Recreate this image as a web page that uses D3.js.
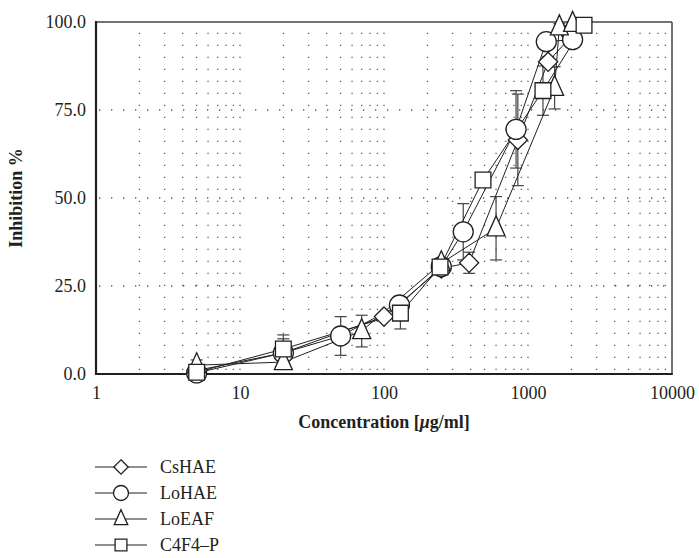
<!DOCTYPE html>
<html>
<head>
<meta charset="utf-8">
<script src="https://cdn.jsdelivr.net/npm/d3@7"></script>
<style>
  body { margin: 0; background: #fff; }
  svg, svg text { font-family: "Liberation Serif", "DejaVu Serif", serif; }
  .tick text { fill: #231f20; font-size: 18px; font-family: "Liberation Serif", serif; }
  .grid { stroke: #5a5a5a; stroke-width: 1.3; stroke-dasharray: 1.3, 10.7; }
  .series { fill: none; stroke: #231f20; stroke-width: 1; }
  .err { stroke: #444; stroke-width: 1.2; }
  .mark { fill: #fff; stroke: #231f20; stroke-width: 1.3; }
</style>
</head>
<body>
<svg id="chart" width="699" height="558"></svg>
<script>
const svg = d3.select("#chart");

// data
const seriesNames = ["CsHAE", "LoHAE", "LoEAF", "C4F4\u2013P"];
const symbolKinds = ["diamond", "circle", "triangle", "square"];

const csConc = [5, 20, 100, 250, 390, 850, 1380, 2000];
const csVal = [1.0, 6.0, 16.3, 30.0, 31.6, 66.5, 88.7, 96.0];
const csErr = [0.5, 1.0, 1.0, 1.5, 3.0, 13.0, 1.5, 1.0];

const loConc = [5, 20, 50, 128, 250, 355, 826, 1340, 2040];
const loVal = [0.3, 6.0, 10.8, 19.6, 30.5, 40.4, 69.5, 94.4, 95.0];
const loErr = [0.5, 4.0, 5.5, 1.0, 1.0, 8.0, 11.0, 1.0, 1.0];

const eaConc = [5, 20, 70, 250, 600, 1530, 1650, 2040];
const eaVal = [2.5, 3.4, 12.2, 31.5, 41.4, 81.3, 98.5, 99.5];
const eaErr = [1.5, 1.0, 4.5, 1.0, 9.0, 6.0, 1.0, 0.5];

const c4Conc = [5, 20, 130, 245, 487, 1270, 2450];
const c4Val = [0.5, 7.1, 17.3, 30.4, 55.1, 80.5, 99.1];
const c4Err = [0.5, 4.0, 4.5, 1.0, 1.0, 7.0, 0.5];

const xTicks = [1, 10, 100, 1000, 10000];
const yTicks = [0, 25, 50, 75, 100];
const yGrid = [25, 50, 75];

const series = [
  { name: seriesNames[0], kind: symbolKinds[0], conc: csConc, val: csVal, err: csErr },
  { name: seriesNames[1], kind: symbolKinds[1], conc: loConc, val: loVal, err: loErr },
  { name: seriesNames[2], kind: symbolKinds[2], conc: eaConc, val: eaVal, err: eaErr },
  { name: seriesNames[3], kind: symbolKinds[3], conc: c4Conc, val: c4Val, err: c4Err }
];

const plotLeft = 96, plotRight = 672, plotTop = 22, plotBottom = 374;
const x = d3.scaleLog().domain([1, 10000]).range([plotLeft, plotRight]);
const y = d3.scaleLinear().domain([0, 100]).range([plotBottom, plotTop]);

// minor log grid (every 1..9 of each decade)
const xGrid = [];
for (let d = 0; d < 4; d++) {
  for (let k = 1; k <= 9; k++) {
    const v = k * Math.pow(10, d);
    if (v > 1) xGrid.push(v);
  }
}

svg.append("g")
  .selectAll("line")
  .data(xGrid)
  .join("line")
  .attr("class", "grid")
  .attr("x1", (d) => x(d)).attr("x2", (d) => x(d))
  .attr("y1", plotBottom - 4).attr("y2", plotTop);

svg.append("g")
  .selectAll("line")
  .data(yGrid)
  .join("line")
  .attr("class", "grid")
  .attr("x1", plotLeft + 3).attr("x2", plotRight)
  .attr("y1", (d) => y(d)).attr("y2", (d) => y(d));

// frame
svg.append("line").attr("x1", plotLeft).attr("x2", plotRight).attr("y1", plotTop).attr("y2", plotTop)
  .attr("stroke", "#444").attr("stroke-width", 1.5);
svg.append("line").attr("x1", plotRight).attr("x2", plotRight).attr("y1", plotTop).attr("y2", plotBottom)
  .attr("stroke", "#444").attr("stroke-width", 1.5);

// axes
const yAxis = svg.append("g")
  .attr("transform", "translate(" + plotLeft + ",0)")
  .call(d3.axisLeft(y).tickValues(yTicks).tickFormat(d3.format(".1f")).tickSize(0).tickPadding(10))
  .attr("font-family", "Liberation Serif, serif").attr("font-size", 18);
yAxis.select(".domain").remove();

const xAxis = svg.append("g")
  .attr("transform", "translate(0," + plotBottom + ")")
  .call(d3.axisBottom(x).tickValues(xTicks).tickFormat((d) => d).tickSize(0).tickPadding(12))
  .attr("font-family", "Liberation Serif, serif").attr("font-size", 18);
xAxis.select(".domain").remove();

svg.append("line").attr("x1", plotLeft).attr("x2", plotLeft).attr("y1", plotTop - 1).attr("y2", plotBottom + 1)
  .attr("stroke", "#231f20").attr("stroke-width", 2.2);
svg.append("line").attr("x1", plotLeft).attr("x2", plotRight + 0.8).attr("y1", plotBottom).attr("y2", plotBottom)
  .attr("stroke", "#231f20").attr("stroke-width", 2.2);

// axis titles
const xTitle = svg.append("text")
  .attr("x", (plotLeft + plotRight) / 2).attr("y", 428)
  .attr("text-anchor", "middle")
  .attr("font-size", 18).attr("font-weight", "bold").attr("fill", "#231f20");
xTitle.append("tspan").text("Concentration [");
xTitle.append("tspan").attr("font-style", "italic").text("\u03bc");
xTitle.append("tspan").text("g/ml]");

svg.append("text")
  .attr("transform", "translate(22," + (plotTop + plotBottom) / 2 + ") rotate(-90)")
  .attr("text-anchor", "middle")
  .attr("font-size", 18).attr("font-weight", "bold").attr("fill", "#231f20")
  .text("Inhibition %");

// symbols
function symbolPath(kind, s) {
  if (kind === "circle") return d3.symbol(d3.symbolCircle, Math.PI * s * s / 4)();
  if (kind === "square") return d3.symbol(d3.symbolSquare, s * s * 0.62)();
  if (kind === "diamond") {
    const h = s * 0.48;
    return "M0," + -h + "L" + h + ",0L0," + h + "L" + -h + ",0Z";
  }
  const w = s * 0.45, t = s * 0.62, b = s * 0.38;
  return "M0," + -t + "L" + w + "," + b + "L" + -w + "," + b + "Z";
}

const plot = svg.append("g");
const line = d3.line().x((d) => x(d[0])).y((d) => y(d[1]));

// error bars
series.forEach(function (s) {
  const pts = s.conc.map((c, i) => [c, s.val[i], s.err[i]]);
  const g = plot.append("g");
  g.selectAll("line.v").data(pts).join("line").attr("class", "err v")
    .attr("x1", (d) => x(d[0])).attr("x2", (d) => x(d[0]))
    .attr("y1", (d) => y(Math.min(100, d[1] + d[2]))).attr("y2", (d) => y(Math.max(0, d[1] - d[2])));
  g.selectAll("line.t").data(pts).join("line").attr("class", "err t")
    .attr("x1", (d) => x(d[0]) - 6).attr("x2", (d) => x(d[0]) + 6)
    .attr("y1", (d) => y(Math.min(100, d[1] + d[2]))).attr("y2", (d) => y(Math.min(100, d[1] + d[2])));
  g.selectAll("line.b").data(pts).join("line").attr("class", "err b")
    .attr("x1", (d) => x(d[0]) - 6).attr("x2", (d) => x(d[0]) + 6)
    .attr("y1", (d) => y(Math.max(0, d[1] - d[2]))).attr("y2", (d) => y(Math.max(0, d[1] - d[2])));
});

// lines
series.forEach(function (s) {
  const pts = s.conc.map((c, i) => [c, s.val[i]]);
  plot.append("path").datum(pts).attr("class", "series").attr("d", line);
});

// markers
series.forEach(function (s) {
  const pts = s.conc.map((c, i) => [c, s.val[i]]);
  plot.append("g").selectAll("path").data(pts).join("path")
    .attr("class", "mark")
    .attr("d", symbolPath(s.kind, 20))
    .attr("transform", (d) => "translate(" + x(d[0]) + "," + y(d[1]) + ")");
});

// legend
const legend = svg.append("g");
const rowY = d3.scalePoint().domain(seriesNames).range([467, 545]);
series.forEach(function (s) {
  const ly = rowY(s.name);
  legend.append("line").attr("x1", 95).attr("x2", 147).attr("y1", ly).attr("y2", ly)
    .attr("stroke", "#231f20").attr("stroke-width", 1.2);
  legend.append("path").attr("class", "mark").attr("d", symbolPath(s.kind, 15))
    .attr("transform", "translate(121," + ly + ")");
  legend.append("text").attr("x", 160).attr("y", ly + 6)
    .attr("font-size", 18).attr("fill", "#231f20").text(s.name);
});
</script>
</body>
</html>
